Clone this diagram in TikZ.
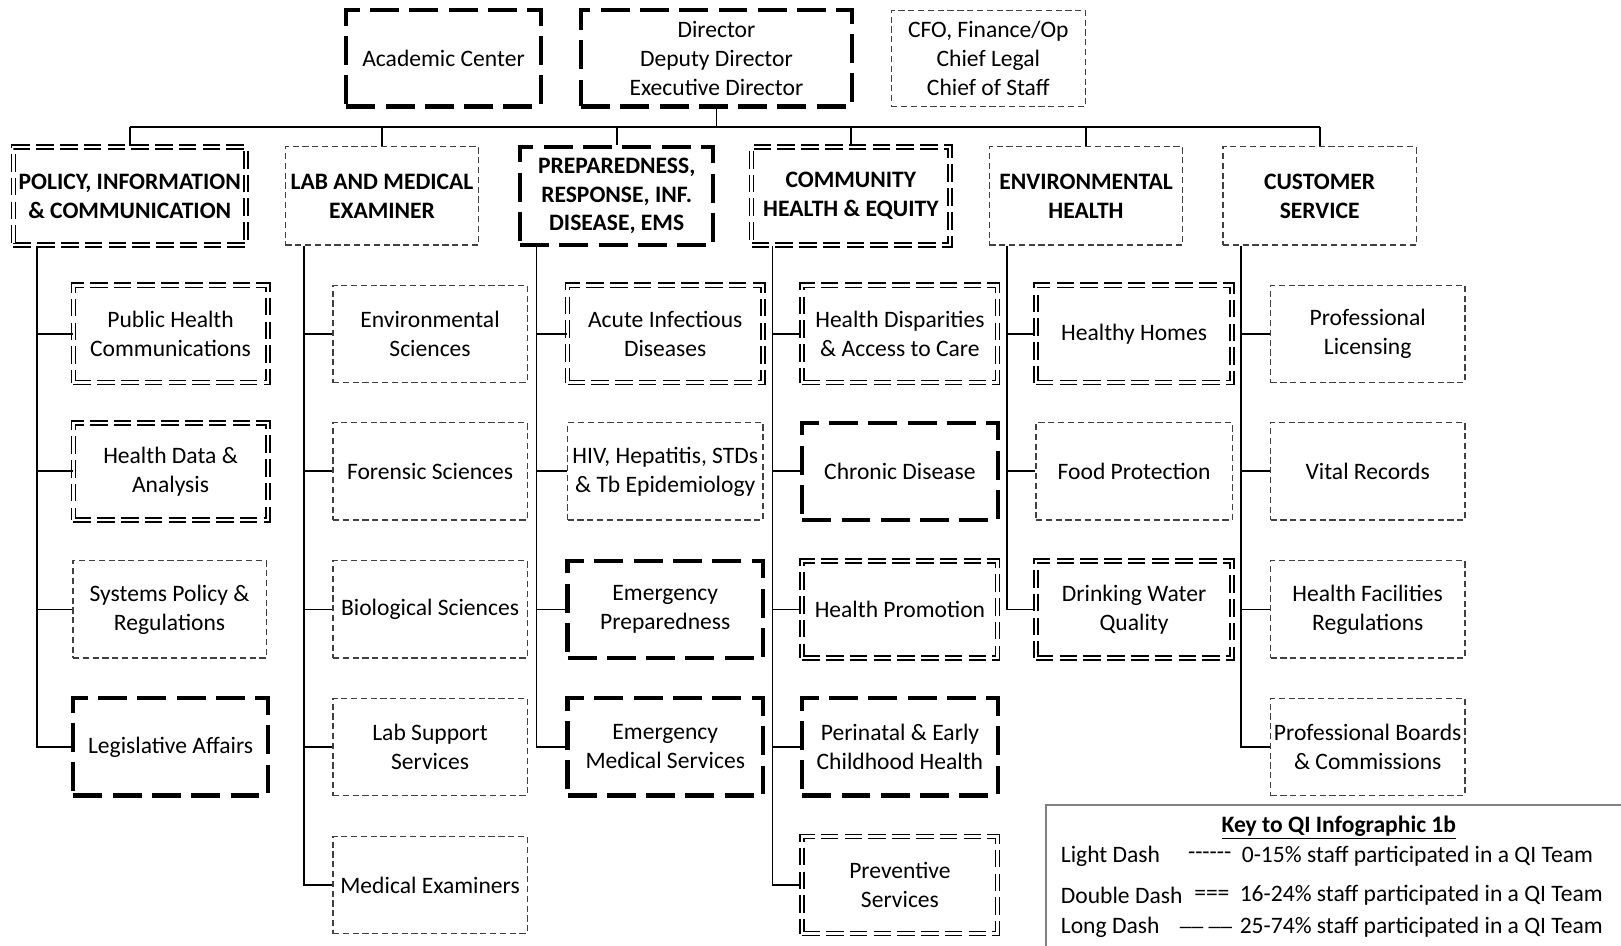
\documentclass[tikz,border=0pt]{standalone}
\usepackage{fontspec}
\setmainfont{Carlito}
\begin{document}
\begin{tikzpicture}[x=1pt,y=-1pt,
  every node/.style={font=\fontsize{22.8}{28}\selectfont, align=center, inner sep=0pt, text=black},
  hd/.style={font=\fontsize{22.8}{28}\selectfont\bfseries},
  lite/.style={draw=black!75, line width=1.2pt, dash pattern=on 6pt off 3.5pt},
  dbl/.style={draw=black, double=white, double distance=2.3pt, line width=1.6pt, dash pattern=on 17pt off 6pt},
  longd/.style={draw=black, line width=4pt, dash pattern=on 28pt off 10pt},
  conn/.style={draw=black, line width=1.8pt},
  topb/.style={minimum height=93pt},
  divb/.style={minimum height=95pt},
  kid/.style={minimum height=94pt}]
\useasboundingbox (0,0) rectangle (1568,915);
% top row
\node[longd, topb, minimum width=188pt] (acad) at (429,56.5) {Academic Center};
\node[longd, topb, minimum width=262pt] (dir) at (693,56.5) {Director\\Deputy Director\\Executive Director};
\node[lite, topb, minimum width=188pt] (cfo) at (956,56.5) {CFO, Finance/Op\\Chief Legal\\Chief of Staff};
% divisions
\node[dbl, hd, divb, minimum width=225pt] (pol) at (125.5,189.5) {POLICY, INFORMATION\\\& COMMUNICATION};
\node[lite, hd, divb, minimum width=187pt] (lab) at (369.5,189.5) {LAB AND MEDICAL\\EXAMINER};
\node[longd, hd, divb, minimum width=187pt] (prep) at (596.5,189.5) {PREPAREDNESS,\\RESPONSE, INF.\\DISEASE, EMS};
\node[dbl, hd, divb, minimum width=192pt] (comm) at (823,189.5) {COMMUNITY\\HEALTH \& EQUITY};
\node[lite, hd, divb, minimum width=187pt] (env) at (1050.5,189.5) {ENVIRONMENTAL\\HEALTH};
\node[lite, hd, divb, minimum width=187pt] (cust) at (1276.5,189.5) {CUSTOMER\\SERVICE};
% policy children
\node[dbl, kid, minimum width=188pt] (p1) at (165,323) {Public Health\\Communications};
\node[dbl, kid, minimum width=188pt] (p2) at (165,456) {Health Data \&\\Analysis};
\node[lite, kid, minimum width=187pt] (p3) at (164,589.5) {Systems Policy \&\\Regulations};
\node[longd, kid, minimum width=188pt] (p4) at (165,722.5) {Legislative Affairs};
% lab children
\node[lite, kid, minimum width=188pt] (l1) at (416,323) {Environmental\\Sciences};
\node[lite, kid, minimum width=188pt] (l2) at (416,456) {Forensic Sciences};
\node[lite, kid, minimum width=188pt] (l3) at (416,589.5) {Biological Sciences};
\node[lite, kid, minimum width=188pt] (l4) at (416,722.5) {Lab Support\\Services};
\node[lite, kid, minimum width=188pt] (l5) at (416,856) {Medical Examiners};
% preparedness children
\node[dbl, kid, minimum width=189pt] (r1) at (643.5,323) {Acute Infectious\\Diseases};
\node[lite, kid, minimum width=189pt] (r2) at (643.5,456) {HIV, Hepatitis, STDs\\\& Tb Epidemiology};
\node[longd, kid, minimum width=189pt] (r3) at (643.5,589.5) {Emergency\\Preparedness};
\node[longd, kid, minimum width=189pt] (r4) at (643.5,722.5) {Emergency\\Medical Services};
% community children
\node[dbl, kid, minimum width=189pt] (c1) at (870.5,323) {Health Disparities\\\& Access to Care};
\node[longd, kid, minimum width=189pt] (c2) at (870.5,456) {Chronic Disease};
\node[dbl, kid, minimum width=189pt] (c3) at (870.5,589.5) {Health Promotion};
\node[longd, kid, minimum width=189pt] (c4) at (870.5,722.5) {Perinatal \& Early\\Childhood Health};
\node[dbl, kid, minimum width=189pt] (c5) at (870.5,856) {Preventive\\Services};
% environmental children
\node[dbl, kid, minimum width=190pt] (e1) at (1097,323) {Healthy Homes};
\node[lite, kid, minimum width=190pt] (e2) at (1097,456) {Food Protection};
\node[dbl, kid, minimum width=190pt] (e3) at (1097,589.5) {Drinking Water\\Quality};
% customer children
\node[lite, kid, minimum width=188pt] (s1) at (1323,323) {Professional\\Licensing};
\node[lite, kid, minimum width=188pt] (s2) at (1323,456) {Vital Records};
\node[lite, kid, minimum width=188pt] (s3) at (1323,589.5) {Health Facilities\\Regulations};
\node[lite, kid, minimum width=188pt] (s4) at (1323,722.5) {Professional Boards\\\& Commissions};
% bus
\coordinate (bus) at (0,123);
\draw[conn] (dir.south) -- (dir.south |- bus);
\draw[conn] (pol.north |- bus) -- (cust.north |- bus);
\foreach \d in {pol,lab,prep,comm,env,cust}
  \draw[conn] (\d.north |- bus) -- (\d.north);
% spines
\coordinate (ps) at ([xshift=24pt]pol.south west);
\coordinate (ls) at ([xshift=19pt]lab.south west);
\coordinate (rs) at ([xshift=18pt]prep.south west);
\coordinate (cs) at ([xshift=21pt]comm.south west);
\coordinate (es) at ([xshift=18pt]env.south west);
\coordinate (ss) at ([xshift=18pt]cust.south west);
\draw[conn] (ps) |- (p4.west);
\foreach \k in {p1,p2,p3} \draw[conn] (ps |- \k.west) -- (\k.west);
\draw[conn] (ls) |- (l5.west);
\foreach \k in {l1,l2,l3,l4} \draw[conn] (ls |- \k.west) -- (\k.west);
\draw[conn] (rs) |- (r4.west);
\foreach \k in {r1,r2,r3} \draw[conn] (rs |- \k.west) -- (\k.west);
\draw[conn] (cs) |- (c5.west);
\foreach \k in {c1,c2,c3,c4} \draw[conn] (cs |- \k.west) -- (\k.west);
\draw[conn] (es) |- (e3.west);
\foreach \k in {e1,e2} \draw[conn] (es |- \k.west) -- (\k.west);
\draw[conn] (ss) |- (s4.west);
\foreach \k in {s1,s2,s3} \draw[conn] (ss |- \k.west) -- (\k.west);
% key
\coordinate (kbl) at (1012,915);
\coordinate (ktr) at (1568,779);
\draw[draw=black!50, line width=1.8pt] (kbl) |- (ktr);
\node[hd] (kt) at (1295,800) {\underline{Key to QI Infographic 1b}};
\node[anchor=west] (k1a) at (1026,828) {Light Dash};
\node[anchor=west] (k1b) at (1149,828) {{-}{-}{-}{-}{-}{-}};
\node[anchor=west] (k1c) at (1201,828) {0-15\% staff participated in a QI Team};
\node[anchor=west] (k2a) at (1026,866) {Double Dash};
\node[anchor=west] (k2b) at (1155,866) {===};
\node[anchor=west] (k2c) at (1199,866) {16-24\% staff participated in a QI Team};
\node[anchor=west] (k3a) at (1026,897) {Long Dash};
\node[anchor=west] (k3b) at (1141,897) {\char"005F\char"005F\ \char"005F\char"005F};
\node[anchor=west] (k3c) at (1199,897) {25-74\% staff participated in a QI Team};
\end{tikzpicture}
\end{document}
